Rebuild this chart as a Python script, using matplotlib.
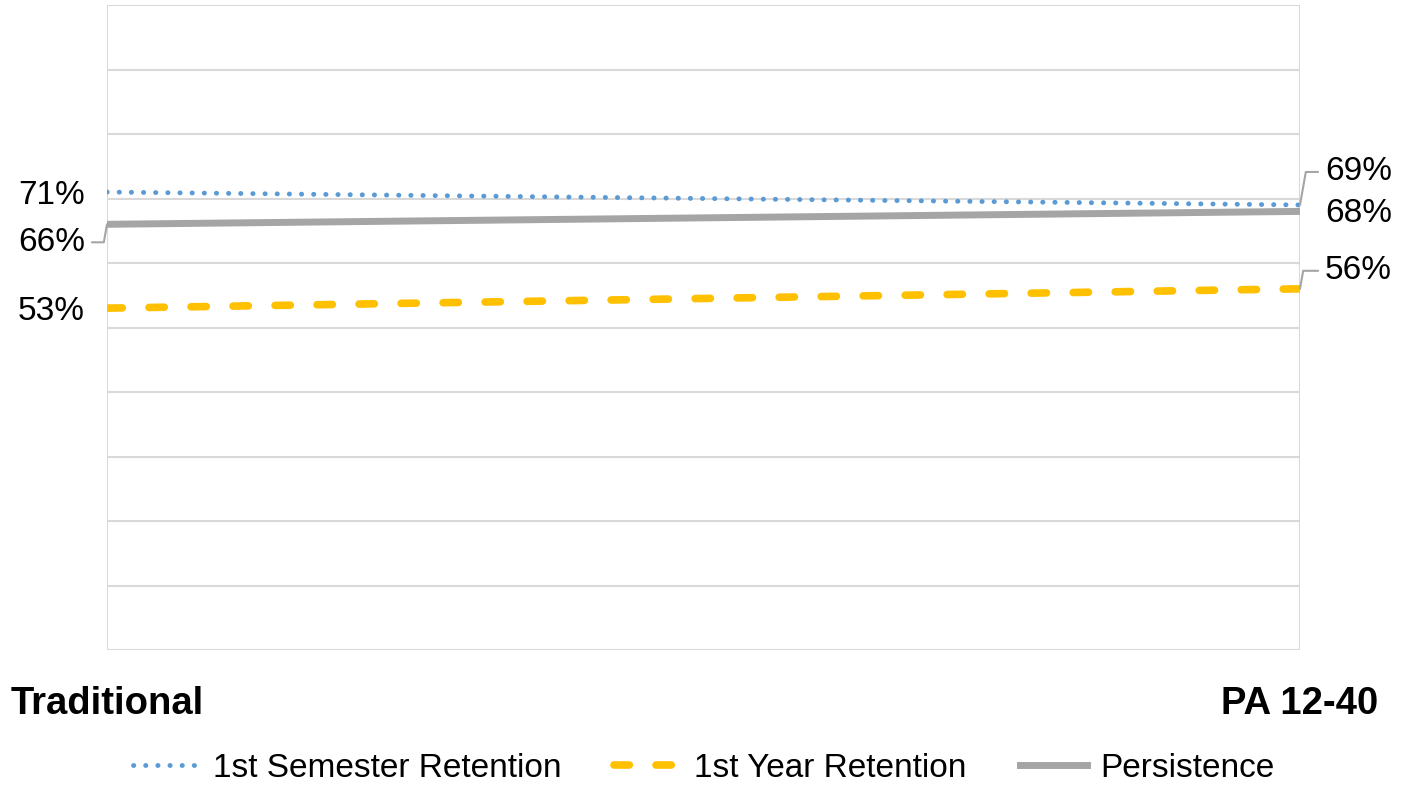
import matplotlib.pyplot as plt
import numpy as np

plt.rcParams['font.family'] = ['Liberation Sans', 'DejaVu Sans']

programs = ["Traditional", "PA 12-40"]
sem_retention = [71, 69]
year_retention = [53, 56]
persistence = [66, 68]

# label offsets in pixels (dx, dy, y up) and whether a leader line is drawn
label_pos = {
    "sem": [((-22, -3), False), ((25, 33), True)],
    "year": [((-22, -3), False), ((25, 18), True)],
    "pers": [((-22, -18), True), ((25, -2), False)],
}

fig = plt.figure(figsize=(14.07, 7.86), dpi=100)
ax = fig.add_axes([107 / 1407, 1 - 650 / 786, (1300 - 107) / 1407, (650 - 5) / 786])

x = np.arange(len(programs))
ax.plot(x, sem_retention, color='#5B9BD5', lw=3.5, linestyle=(0, (0.05, 2.45)),
        dash_capstyle='round', label='1st Semester Retention', zorder=3)
ax.plot(x, year_retention, color='#FFC000', lw=5.5, linestyle=(0, (2.0, 3.5)),
        dash_capstyle='round', label='1st Year Retention', zorder=3)
ax.plot(x, persistence, color='#A5A5A5', lw=5, label='Persistence', zorder=3)

for key, vals in [("sem", sem_retention), ("year", year_retention), ("pers", persistence)]:
    for i, v in enumerate(vals):
        (dx, dy), leader = label_pos[key][i]
        ha = 'right' if i == 0 else 'left'
        props = None
        if leader:
            props = dict(arrowstyle='-', color='#A5A5A5', lw=1.5, shrinkA=3, shrinkB=0,
                         connectionstyle='angle,angleA=0,angleB=80,rad=0')
        ax.annotate(f"{v}%", xy=(i, v), xytext=(dx, dy), textcoords='offset pixels',
                    ha=ha, va='center', fontsize=24, color='black',
                    arrowprops=props, annotation_clip=False)

ax.set_xlim(0, 1)
ax.set_ylim(0, 100)
ax.set_yticks(np.arange(0, 101, 10))
ax.set_yticklabels([])
ax.tick_params(axis='y', length=0)
ax.set_xticks(x)
ax.set_xticklabels(programs, fontsize=27.5, fontweight='bold')
ax.tick_params(axis='x', length=0, pad=26)
ax.grid(True, color='#D9D9D9', lw=1.5)
for s in ax.spines.values():
    s.set_visible(False)

ax.legend(loc='center', bbox_to_anchor=(0.5, -0.183), ncol=3, frameon=False,
          fontsize=24, handlelength=2.0, handletextpad=0.4, columnspacing=1.6)

plt.savefig("out.png", dpi=100)
